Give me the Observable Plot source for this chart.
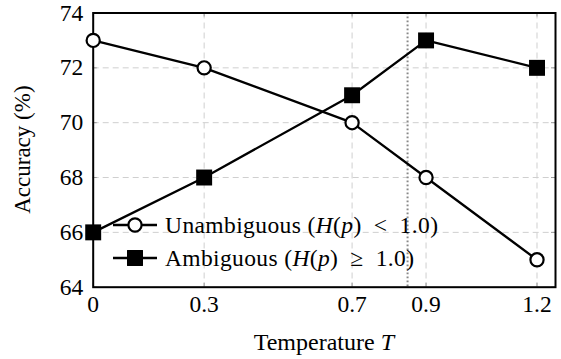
<!DOCTYPE html>
<html><head><meta charset="utf-8">
<script src="https://cdn.jsdelivr.net/npm/d3@7"></script>
<script src="https://cdn.jsdelivr.net/npm/@observablehq/plot@0.6"></script>
<style>body{margin:0;background:#fff} svg text{font-family:'Liberation Serif','Times New Roman',serif !important;}</style>
</head><body><div id="chart"></div>
<script>
const temperatures = [0, 0.3, 0.7, 0.9, 1.2];
const unambiguousAcc = [73, 72, 70, 68, 65];
const ambiguousAcc = [66, 68, 71, 73, 72];
const xTickValues = [0, 0.3, 0.7, 0.9, 1.2];
const xTickLabels = ["0", "0.3", "0.7", "0.9", "1.2"];
const yTickValues = [64, 66, 68, 70, 72, 74];
const thresholdT = [0.85];
const seriesNames = ["Unambiguous", "Ambiguous"];

const unamb = temperatures.map((t, i) => ({T: t, acc: unambiguousAcc[i], series: seriesNames[0]}));
const amb = temperatures.map((t, i) => ({T: t, acc: ambiguousAcc[i], series: seriesNames[1]}));

const W = 561, H = 359;
const mL = 92.7, mR = 6, mT = 12.5, mB = 72.3;
const innerH = H - mT - mB, innerW = W - mL - mR;
const FONT = "'Liberation Serif', 'Times New Roman', serif";
const rCircle = 6.6, rSquare = 9;

const plot = Plot.plot({
  width: W, height: H,
  marginLeft: mL, marginRight: mR, marginTop: mT, marginBottom: mB,
  style: {fontFamily: FONT, fontSize: "23px", background: "white", color: "black"},
  x: {domain: [0, 1.25], label: null},
  y: {domain: [64, 74], label: null},
  marks: [
    Plot.gridX(xTickValues, {stroke: "#cfcfcf", strokeOpacity: 1, strokeWidth: 1, strokeDasharray: "6,4"}),
    Plot.gridY(yTickValues, {stroke: "#cfcfcf", strokeOpacity: 1, strokeWidth: 1, strokeDasharray: "6,4"}),
    Plot.tickX(xTickValues, {x: d => d, insetTop: innerH - 4, stroke: "#999", strokeWidth: 1}),
    Plot.tickX(xTickValues, {x: d => d, insetBottom: innerH - 4, stroke: "#999", strokeWidth: 1}),
    Plot.tickY(yTickValues, {y: d => d, insetRight: innerW - 4, stroke: "#999", strokeWidth: 1}),
    Plot.tickY(yTickValues, {y: d => d, insetLeft: innerW - 4, stroke: "#999", strokeWidth: 1}),
    Plot.ruleX(thresholdT, {x: d => d, stroke: "#888", strokeWidth: 2, strokeDasharray: "1.8,2.2"}),
    Plot.axisX(xTickValues, {tickSize: 0, tickPadding: 8, fontSize: 23.5, fontFamily: FONT, label: null,
      tickFormat: d => xTickLabels[xTickValues.indexOf(d)]}),
    Plot.axisY(yTickValues, {tickSize: 0, tickPadding: 10, fontSize: 23.5, fontFamily: FONT, label: null}),
    Plot.frame({stroke: "black", strokeWidth: 2}),
    Plot.line(unamb, {x: "T", y: "acc", stroke: "black", strokeWidth: 2.3}),
    Plot.line(amb, {x: "T", y: "acc", stroke: "black", strokeWidth: 2.3}),
    Plot.dot(unamb, {x: "T", y: "acc", r: rCircle, symbol: "circle", fill: "white", stroke: "black", strokeWidth: 2.2}),
    Plot.dot(amb, {x: "T", y: "acc", r: rSquare, symbol: "square", fill: "black", stroke: "none"})
  ]
});
document.getElementById("chart").appendChild(plot);

const svg = d3.select(plot);
// axis labels
const xl = svg.append("text")
  .attr("x", mL + innerW / 2).attr("y", 349.5)
  .attr("text-anchor", "middle").attr("font-size", 24).attr("fill", "black");
xl.append("tspan").text("Temperature ");
xl.append("tspan").attr("font-style", "italic").text("T");

svg.append("text")
  .attr("transform", `translate(30,${mT + innerH / 2}) rotate(-90)`)
  .attr("text-anchor", "middle").attr("font-size", 23).attr("fill", "black")
  .text("Accuracy (%)");

// legend
const legendItems = [
  {name: seriesNames[0], sym: d3.symbolCircle, r: rCircle, fill: "white", stroke: "black", cmp: "<", len: 273},
  {name: seriesNames[1], sym: d3.symbolSquare, r: rSquare, fill: "black", stroke: "none", cmp: "\u2265", len: 249}
];
const lg = svg.append("g").attr("font-size", 23.5).attr("text-anchor", "start");
legendItems.forEach((it, i) => {
  const cy = 225 + i * 33;
  const g = lg.append("g").attr("transform", `translate(0,${cy})`);
  g.append("line").attr("x1", 113).attr("x2", 157).attr("stroke", "black").attr("stroke-width", 2.3);
  g.append("path").attr("transform", "translate(135,0)")
    .attr("d", d3.symbol(it.sym, it.r * it.r * Math.PI)())
    .attr("fill", it.fill).attr("stroke", it.stroke).attr("stroke-width", 2.2);
  const t = g.append("text").attr("x", 165).attr("dy", "0.33em").attr("fill", "black").attr("text-anchor", "start")
    .attr("textLength", it.len).attr("lengthAdjust", "spacing");
  t.append("tspan").text(it.name + " (");
  t.append("tspan").attr("font-style", "italic").text("H");
  t.append("tspan").text("(");
  t.append("tspan").attr("font-style", "italic").text("p");
  t.append("tspan").text(")\u2002" + it.cmp + "\u20021.0)");
});
</script>
</body></html>
